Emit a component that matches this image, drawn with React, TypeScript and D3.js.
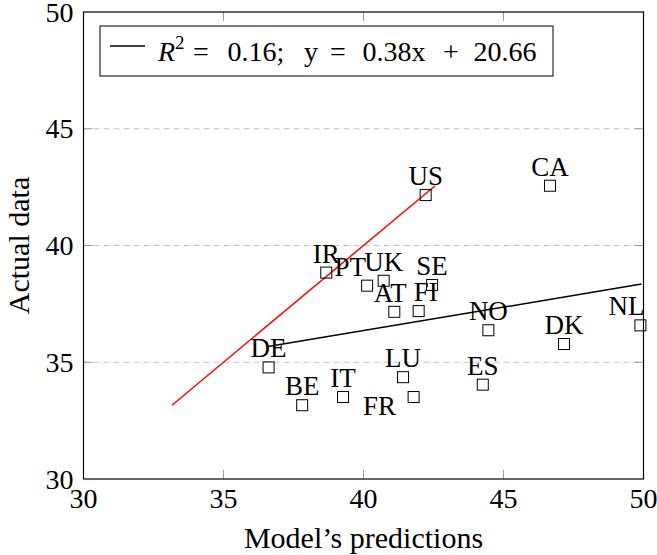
import React from "react";
import * as d3 from "d3";

// country codes and their values (predicted by the model vs actual)
const countries = ["US", "CA", "IR", "PT", "UK", "SE", "AT", "FI", "NO", "DK", "NL", "DE", "BE", "IT", "FR", "LU", "ES"];
const predicted = [42.22, 46.66, 38.67, 40.13, 40.72, 42.45, 41.1, 41.97, 44.46, 47.16, 49.89, 36.61, 37.81, 39.27, 41.79, 41.41, 44.26];
const actual = [42.16, 42.56, 38.84, 38.28, 38.49, 38.31, 37.16, 37.19, 36.37, 35.78, 36.58, 34.78, 33.16, 33.51, 33.51, 34.36, 34.04];

// regression line end points
const fitX = [36.59, 49.93];
const fitY = [35.67, 38.35];

const xTicks = [30, 35, 40, 45, 50];
const yTicks = [30, 35, 40, 45, 50];

// legend formula, set piece by piece like TeX math spacing (centres in px)
const legendParts = ["=", "0.16;", "y", "=", "0.38x", "+", "20.66"];
const legendPartX = [201, 256, 311, 338, 394, 451, 505];

// a few labels are moved off their default spot above the mark
const labelShift: Record<string, [number, number]> = {
  PT: [-17, 0],
  AT: [-4, 0],
  FI: [7, 0],
  NL: [-14, 0],
  FR: [-34, 28],
};

const W = 657, H = 555;
const margin = { top: 12, right: 13.5, bottom: 76, left: 83.5 };
const font = "'Liberation Serif', 'Times New Roman', serif";

export default function App() {
  const x = d3.scaleLinear().domain([30, 50]).range([margin.left, W - margin.right]);
  const y = d3.scaleLinear().domain([30, 50]).range([H - margin.bottom, margin.top]);
  const x0 = margin.left, x1 = W - margin.right, y0 = H - margin.bottom, y1 = margin.top;

  const line = d3.line<[number, number]>().x(d => x(d[0])).y(d => y(d[1]));
  const lo = d3.min(actual) as number, hi = d3.max(actual) as number;
  const identity = line([[lo, lo], [hi, hi]]);
  const fit = line([[fitX[0], fitY[0]], [fitX[1], fitY[1]]]);

  const tickLen = 9;
  const tickColor = "#9a9a9a";

  return (
    <svg width={W} height={H} style={{ position: "absolute", left: 0, top: 0, background: "#fff" }}
      fontFamily={font}>
      {/* grid */}
      {yTicks.filter(t => t > 30 && t < 50).map(t => (
        <line key={"g" + t} x1={x0} x2={x1} y1={y(t)} y2={y(t)} stroke="#c4c4c4" strokeWidth={1} strokeDasharray="6 4" />
      ))}
      {/* ticks, all inside the frame */}
      {xTicks.filter(t => t > 30 && t < 50).map(t => (
        <g key={"xt" + t} stroke={tickColor} strokeWidth={1}>
          <line x1={x(t)} x2={x(t)} y1={y0} y2={y0 - tickLen} />
          <line x1={x(t)} x2={x(t)} y1={y1} y2={y1 + tickLen} />
        </g>
      ))}
      {yTicks.filter(t => t > 30 && t < 50).map(t => (
        <g key={"yt" + t} stroke={tickColor} strokeWidth={1}>
          <line x1={x0} x2={x0 + tickLen} y1={y(t)} y2={y(t)} />
          <line x1={x1} x2={x1 - tickLen} y1={y(t)} y2={y(t)} />
        </g>
      ))}
      {/* frame */}
      <rect x={x0} y={y1} width={x1 - x0} height={y0 - y1} fill="none" stroke="#000" strokeWidth={1.2} />

      {/* tick labels */}
      {xTicks.map(t => (
        <text key={"xl" + t} x={x(t)} y={y0 + 29} textAnchor="middle" fontSize={28}>{t}</text>
      ))}
      {yTicks.map(t => (
        <text key={"yl" + t} x={x0 - 10} y={y(t) + 9.5} textAnchor="end" fontSize={28}>{t}</text>
      ))}

      {/* axis titles */}
      <text x={(x0 + x1) / 2} y={548} textAnchor="middle" fontSize={30}>Model’s predictions</text>
      <text transform={`translate(29,${(y0 + y1) / 2}) rotate(-90)`} textAnchor="middle" fontSize={30}>Actual data</text>

      {/* lines */}
      <path d={identity ?? ""} fill="none" stroke="#ff0000" strokeWidth={1.5} />
      <path d={fit ?? ""} fill="none" stroke="#000" strokeWidth={1.5} />

      {/* marks */}
      {countries.map((c, i) => (
        <rect key={"m" + c} x={x(predicted[i]) - 5.5} y={y(actual[i]) - 5.5} width={11} height={11}
          fill="none" stroke="#000" strokeWidth={1} />
      ))}
      {countries.map((c, i) => {
        const s = labelShift[c] ?? [0, 0];
        return (
          <text key={"l" + c} x={x(predicted[i]) + s[0]} y={y(actual[i]) - 10 + s[1]} textAnchor="middle" fontSize={27}>{c}</text>
        );
      })}

      {/* legend */}
      <rect x={100} y={26} width={453} height={50} fill="#fff" stroke="#000" strokeWidth={1} />
      <line x1={110} x2={145} y1={46} y2={46} stroke="#000" strokeWidth={1.5} />
      <text x={158} y={61} fontSize={28}>
        <tspan fontStyle="italic">R</tspan>
        <tspan fontSize={19} dy={-12}>2</tspan>
      </text>
      {legendParts.map((p, i) => (
        <text key={"lp" + i} x={legendPartX[i]} y={61} fontSize={28} textAnchor="middle">{p}</text>
      ))}
    </svg>
  );
}
